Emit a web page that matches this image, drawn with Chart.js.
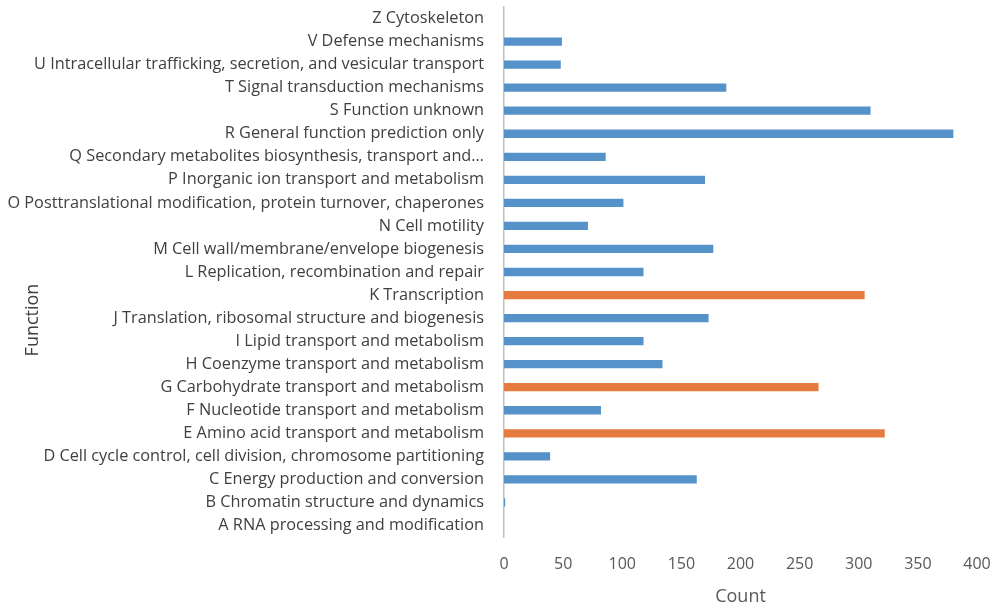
<!DOCTYPE html>
<html>
<head>
<meta charset="utf-8">
<script src="https://cdn.jsdelivr.net/npm/chart.js@4/dist/chart.umd.min.js"></script>
<style>
  html, body { margin: 0; padding: 0; background: #fff; }
  #chart { display: block; }
</style>
</head>
<body>
<canvas id="chart" width="997" height="606"></canvas>
<script>
// COG categories, bottom (A) to top (Z)
const categories = [
    'A RNA processing and modification',
    'B Chromatin structure and dynamics',
    'C Energy production and conversion',
    'D Cell cycle control, cell division, chromosome partitioning',
    'E Amino acid transport and metabolism',
    'F Nucleotide transport and metabolism',
    'G Carbohydrate transport and metabolism',
    'H Coenzyme transport and metabolism',
    'I Lipid transport and metabolism',
    'J Translation, ribosomal structure and biogenesis',
    'K Transcription',
    'L Replication, recombination and repair',
    'M Cell wall/membrane/envelope biogenesis',
    'N Cell motility',
    'O Posttranslational modification, protein turnover, chaperones',
    'P Inorganic ion transport and metabolism',
    'Q Secondary metabolites biosynthesis, transport and…',
    'R General function prediction only',
    'S Function unknown',
    'T Signal transduction mechanisms',
    'U Intracellular trafficking, secretion, and vesicular transport',
    'V Defense mechanisms',
    'Z Cytoskeleton'
];
const counts = [0, 1, 163, 39, 322, 82, 266, 134, 118, 173, 305, 118, 177, 71, 101, 170, 86, 380, 310, 188, 48, 49, 0];
const highlighted = ['E', 'G', 'K'];
const xTicks = [0, 50, 100, 150, 200, 250, 300, 350, 400];

const blue = '#5592C9';
const orange = '#E57B3E';

const barColors = categories.map(c => highlighted.includes(c[0]) ? orange : blue);

// y axis title sits a bit below the middle in the original, so draw it by hand
const yTitlePlugin = {
    id: 'yTitle',
    afterDraw(chart) {
        const c = chart.ctx;
        c.save();
        c.translate(33, 320);
        c.rotate(-Math.PI / 2);
        c.font = '18px "Open Sans"';
        c.fillStyle = '#404040';
        c.textAlign = 'center';
        c.textBaseline = 'middle';
        c.fillText('Function', 0, 0);
        c.restore();
    }
};

const ctx = document.getElementById('chart').getContext('2d');
new Chart(ctx, {
    type: 'bar',
    data: {
        labels: categories,
        datasets: [{
            label: 'Count',
            data: counts,
            backgroundColor: barColors,
            categoryPercentage: 1,
            barPercentage: 0.36
        }]
    },
    plugins: [yTitlePlugin],
    options: {
        indexAxis: 'y',
        responsive: false,
        animation: false,
        layout: { padding: { top: 7, right: 20, left: 0, bottom: 0 } },
        plugins: {
            legend: { display: false },
            tooltip: { enabled: false }
        },
        scales: {
            x: {
                min: 0,
                max: 400,
                afterBuildTicks: function(scale) {
                    scale.ticks = xTicks.map(v => ({ value: v }));
                },
                afterFit: function(scale) {
                    scale.height = 69;
                    scale.paddingLeft = 0;
                    scale.paddingRight = 0;
                },
                grid: { display: false, drawTicks: false },
                border: { display: false },
                ticks: {
                    padding: 18,
                    color: '#595959',
                    font: { family: 'Open Sans', size: 16 }
                },
                title: {
                    display: true,
                    text: 'Count',
                    color: '#595959',
                    padding: { top: 0, bottom: 0 },
                    font: { family: 'Open Sans', size: 18, lineHeight: 1 }
                }
            },
            y: {
                reverse: true,
                afterFit: function(scale) {
                    scale.width = 504;
                    scale.paddingTop = 0;
                    scale.paddingBottom = 0;
                },
                grid: { display: false, drawTicks: false },
                border: { display: true, color: '#BFBFBF', width: 1.5 },
                ticks: {
                    padding: 20,
                    autoSkip: false,
                    color: '#404040',
                    font: { family: 'Open Sans', size: 16.3 }
                }
            }
        }
    }
});
</script>
</body>
</html>
